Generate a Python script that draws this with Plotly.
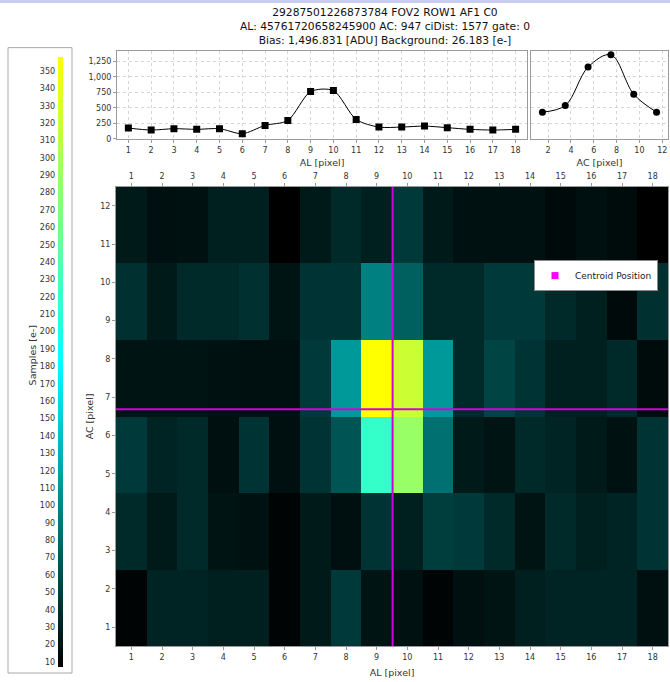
import plotly.graph_objects as go

W, H = 670, 682

# AL pixel columns and AC sample rows (each AC sample spans two pixels)
al_pixels = list(range(1, 19))
ac_samples = [1.5, 3.5, 5.5, 7.5, 9.5, 11.5]
ac_ticks = list(range(1, 13))
cbar_ticks = list(range(10, 360, 10))
al_profile_ticks = [0, 250, 500, 750, 1000, 1250]

# Samples [e-], rows bottom (AC 1-2) to top (AC 11-12), columns AL 1..18
samples_ac_1_2 = [10, 32, 32, 29, 29, 10, 25, 46, 21, 19, 10, 17, 21, 29, 32, 32, 32, 17]
samples_ac_3_4 = [35, 25, 35, 21, 19, 10, 25, 17, 42, 29, 50, 46, 35, 21, 35, 29, 32, 42]
samples_ac_5_6 = [46, 32, 35, 17, 42, 17, 42, 65, 218, 288, 84, 25, 21, 35, 32, 25, 19, 42]
samples_ac_7_8 = [21, 21, 21, 19, 18, 18, 46, 112, 358, 323, 112, 35, 54, 42, 29, 29, 35, 15]
samples_ac_9_10 = [40, 25, 35, 35, 40, 21, 42, 42, 95, 73, 35, 35, 46, 46, 35, 29, 14, 40]
samples_ac_11_12 = [25, 18, 19, 29, 29, 7, 25, 35, 29, 46, 25, 19, 19, 19, 14, 18, 15, 7]

# Summed profiles along AL and AC
al_profile = [176, 144, 166, 155, 166, 85, 219, 299, 764, 780, 315, 192, 192, 208, 182, 155, 144, 155]
ac_profile = [433, 540, 1159, 1357, 721, 433]

centroid_al = 9.52
centroid_ac = 6.69

z = [samples_ac_1_2, samples_ac_3_4, samples_ac_5_6,
     samples_ac_7_8, samples_ac_9_10, samples_ac_11_12]

title_lines = [
    "29287501226873784 FOV2 ROW1 AF1 C0",
    "AL: 45761720658245900 AC: 947 ciDist: 1577 gate: 0",
    "Bias: 1,496.831 [ADU] Background: 26.183 [e-]",
]


def fx(px):
    return px / W


def fy(py):
    return 1 - py / H


FONT = "DejaVu Sans"
TICK_FONT = dict(family=FONT, size=8, color="#333333")
TITLE_FONT = dict(family=FONT, size=9.5, color="#333333")
GRID = dict(showgrid=True, gridcolor="#d6d6d6", griddash="dot", gridwidth=1)
FRAME = dict(showline=True, mirror=True, linecolor="#9a9a9a", linewidth=1, zeroline=False)

fig = go.Figure()

# AL profile
fig.add_trace(go.Scatter(
    x=al_pixels, y=al_profile, mode="lines+markers",
    line=dict(color="#000000", width=1, shape="spline", smoothing=0.8),
    marker=dict(symbol="square", size=7, color="#000000"),
    xaxis="x", yaxis="y", showlegend=False, hoverinfo="skip"))

# AC profile
fig.add_trace(go.Scatter(
    x=ac_samples, y=ac_profile, mode="lines+markers",
    line=dict(color="#000000", width=1, shape="spline", smoothing=1.0),
    marker=dict(symbol="circle", size=7, color="#000000"),
    xaxis="x2", yaxis="y2", showlegend=False, hoverinfo="skip"))

# Sample window
fig.add_trace(go.Heatmap(
    x=al_pixels, y=ac_samples, z=z,
    zmin=7, zmax=358,
    colorscale=[[0.0, "#000000"], [0.5, "#00ffff"], [1.0, "#ffff00"]],
    xaxis="x3", yaxis="y3",
    colorbar=dict(
        x=fx(58), xanchor="left", y=fy(672), yanchor="bottom",
        len=610, lenmode="pixels", thickness=5, thicknessmode="pixels",
        outlinewidth=0, xpad=0, ypad=0,
        tickmode="array", tickvals=cbar_ticks,
        ticklabelposition="inside", ticks="inside", ticklen=6,
        tickcolor="rgba(0,0,0,0)", tickfont=TICK_FONT,
    ),
))

# Centroid crosshair
fig.add_trace(go.Scatter(
    x=[centroid_al, centroid_al], y=[0.5, 12.5], mode="lines",
    line=dict(color="#d400d8", width=2), xaxis="x4", yaxis="y3",
    showlegend=False, hoverinfo="skip"))
fig.add_trace(go.Scatter(
    x=[0.5, 18.5], y=[centroid_ac, centroid_ac], mode="lines",
    line=dict(color="#d400d8", width=2), xaxis="x3", yaxis="y3",
    showlegend=False, hoverinfo="skip"))
fig.add_trace(go.Scatter(
    x=[None], y=[None], mode="markers", name="Centroid Position",
    marker=dict(symbol="square", size=7, color="#ff00ff"),
    xaxis="x3", yaxis="y3", hoverinfo="skip"))

fig.update_layout(
    width=W, height=H,
    margin=dict(l=0, r=0, t=0, b=0),
    paper_bgcolor="#ffffff", plot_bgcolor="#ffffff",
    font=dict(family=FONT, color="#222222"),
    showlegend=True,
    legend=dict(
        x=fx(658), xanchor="right", y=fy(262), yanchor="top",
        bgcolor="#ffffff", bordercolor="#8a8a8a", borderwidth=1,
        font=dict(family=FONT, size=9, color="#222222"),
        itemwidth=30, tracegroupgap=0,
    ),
    xaxis=dict(
        domain=[fx(117), fx(527)], anchor="y", range=[0.5, 18.5],
        tickmode="array", tickvals=al_pixels, ticks="outside", ticklen=3,
        tickcolor="#9a9a9a", tickfont=TICK_FONT,
        title=dict(text="AL [pixel]", font=TITLE_FONT, standoff=5),
        **GRID, **FRAME),
    yaxis=dict(
        domain=[fy(140), fy(51)], anchor="x", range=[0, 1425],
        tickmode="array", tickvals=al_profile_ticks, tickformat=",",
        ticks="outside", ticklen=3, tickcolor="#9a9a9a", tickfont=TICK_FONT,
        **GRID, **FRAME),
    xaxis2=dict(
        domain=[fx(531), fx(668)], anchor="y2", range=[0.5, 12.5],
        tickmode="array", tickvals=[2, 4, 6, 8, 10, 12], ticks="outside", ticklen=3,
        tickcolor="#9a9a9a", tickfont=TICK_FONT,
        title=dict(text="AC [pixel]", font=TITLE_FONT, standoff=5),
        **GRID, **FRAME),
    yaxis2=dict(
        domain=[fy(140), fy(51)], anchor="x2", range=[0, 1425],
        tickmode="array", tickvals=al_profile_ticks, showticklabels=False,
        **GRID, **FRAME),
    xaxis3=dict(
        domain=[fx(116), fx(668)], anchor="y3", range=[0.5, 18.5],
        tickmode="array", tickvals=al_pixels, ticks="outside", ticklen=3,
        tickcolor="#9a9a9a", tickfont=TICK_FONT, showgrid=False,
        title=dict(text="AL [pixel]", font=TITLE_FONT, standoff=8),
        **FRAME),
    xaxis4=dict(
        overlaying="x3", matches="x3", anchor="y3", side="top",
        range=[0.5, 18.5], tickmode="array", tickvals=al_pixels,
        ticks="outside", ticklen=3, tickcolor="#9a9a9a", tickfont=TICK_FONT,
        showgrid=False, zeroline=False, showline=False),
    yaxis3=dict(
        domain=[fy(651), fy(188)], anchor="x3", range=[0.5, 12.5],
        tickmode="array", tickvals=ac_ticks, ticks="outside", ticklen=3,
        tickcolor="#9a9a9a", tickfont=TICK_FONT, showgrid=False,
        title=dict(text="AC [pixel]", font=TITLE_FONT, standoff=4),
        **FRAME),
    shapes=[
        # window title strip
        dict(type="rect", xref="paper", yref="paper", x0=0, x1=1, y0=fy(3), y1=1,
             fillcolor="#c9cbef", line=dict(width=0), layer="below"),
        # colour scale panel
        dict(type="rect", xref="paper", yref="paper",
             x0=fx(8), x1=fx(72), y0=fy(678), y1=fy(48),
             fillcolor="rgba(0,0,0,0)", line=dict(color="#a8a8a8", width=1)),
    ],
    annotations=[
        dict(text="<br>".join(title_lines), xref="paper", yref="paper",
             x=fx(385), y=fy(4), xanchor="center", yanchor="top", showarrow=False,
             align="center", font=dict(family=FONT, size=10.7, color="#111111")),
        dict(text="Samples [e-]", xref="paper", yref="paper", x=fx(32), y=fy(358),
             showarrow=False, textangle=-90, font=TITLE_FONT,
             xanchor="center", yanchor="middle"),
    ],
)

fig.write_html("out.html")
